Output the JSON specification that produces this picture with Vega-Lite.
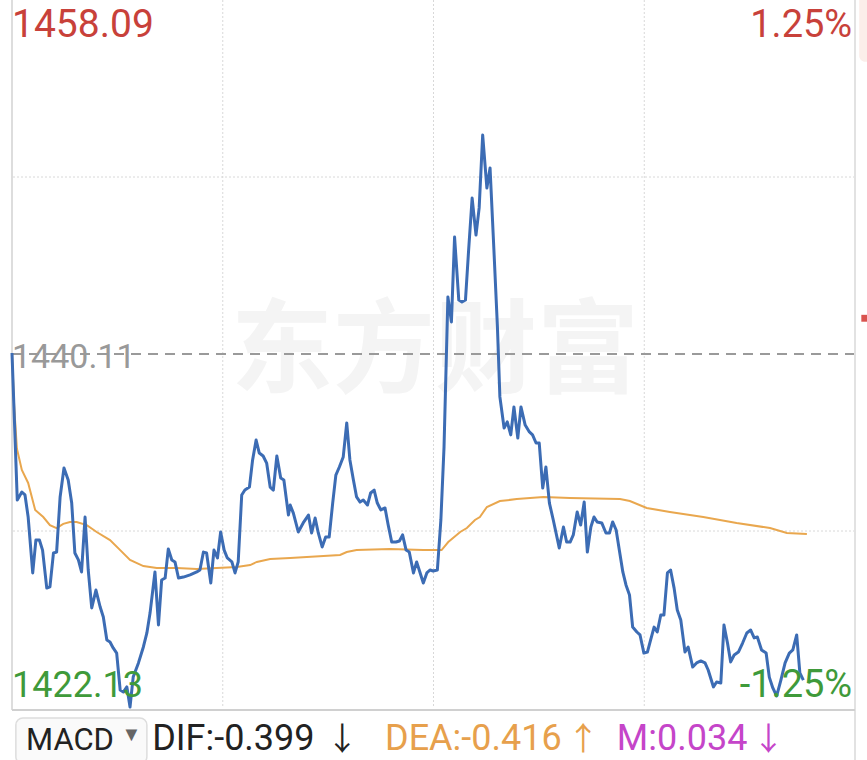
{
  "$schema": "https://vega.github.io/schema/vega-lite/v6.json",
  "width": 843,
  "height": 708,
  "autosize": {"type": "none"},
  "padding": {"left": 12, "top": 0, "right": 12, "bottom": 52},
  "background": "white",
  "config": {"view": {"stroke": null}, "text": {"font": "Roboto"}},
  "datasets": {
    "price": [
      {"t":0,"p":1440.16},{"t":1.5,"p":1432.69},{"t":2.8,"p":1433.10},{"t":3.7,"p":1432.95},{"t":4.6,"p":1431.83},
      {"t":5.9,"p":1428.99},{"t":6.8,"p":1430.66},{"t":7.8,"p":1430.66},{"t":8.7,"p":1430.15},{"t":9.9,"p":1428.22},
      {"t":10.8,"p":1428.28},{"t":11.8,"p":1430.00},{"t":12.7,"p":1430.05},{"t":13.7,"p":1432.85},{"t":14.8,"p":1434.32},
      {"t":16.0,"p":1433.71},{"t":17.0,"p":1432.54},{"t":17.9,"p":1430.00},{"t":18.9,"p":1429.65},{"t":19.8,"p":1429.04},
      {"t":20.8,"p":1431.83},{"t":21.7,"p":1429.14},{"t":22.7,"p":1427.21},{"t":23.9,"p":1428.12},{"t":25.1,"p":1427.26},
      {"t":26.0,"p":1426.75},{"t":27.0,"p":1425.58},{"t":27.9,"p":1425.48},{"t":28.8,"p":1425.18},{"t":29.8,"p":1424.92},
      {"t":30.8,"p":1423.04},{"t":31.7,"p":1422.94},{"t":32.7,"p":1423.20},{"t":33.6,"p":1422.18},{"t":34.5,"p":1423.70},
      {"t":36.0,"p":1424.42},{"t":37.4,"p":1425.23},{"t":38.4,"p":1425.94},{"t":39.3,"p":1426.95},{"t":40.7,"p":1429.04},
      {"t":41.7,"p":1426.35},{"t":42.6,"p":1428.63},{"t":43.6,"p":1428.73},{"t":44.5,"p":1430.21},{"t":45.5,"p":1429.65},
      {"t":46.4,"p":1429.55},{"t":47.4,"p":1428.73},{"t":48.8,"p":1428.78},{"t":50.7,"p":1428.89},{"t":52.6,"p":1429.04},
      {"t":53.5,"p":1429.14},{"t":54.5,"p":1430.05},{"t":55.4,"p":1430.00},{"t":56.6,"p":1428.48},{"t":57.5,"p":1430.15},
      {"t":58.5,"p":1429.75},{"t":59.4,"p":1431.07},{"t":60.4,"p":1430.15},{"t":61.3,"p":1429.75},{"t":62.6,"p":1429.55},
      {"t":63.5,"p":1428.99},{"t":64.4,"p":1429.55},{"t":65.4,"p":1432.95},{"t":66.3,"p":1433.20},{"t":67.6,"p":1433.35},
      {"t":68.5,"p":1434.73},{"t":69.5,"p":1435.74},{"t":70.4,"p":1435.08},{"t":71.5,"p":1434.93},{"t":72.5,"p":1434.57},
      {"t":73.5,"p":1433.35},{"t":74.4,"p":1433.20},{"t":75.4,"p":1434.93},{"t":76.5,"p":1433.81},{"t":77.4,"p":1433.71},
      {"t":78.7,"p":1431.93},{"t":79.2,"p":1432.44},{"t":80.1,"p":1432.03},{"t":81.5,"p":1431.07},{"t":82.9,"p":1431.53},
      {"t":84.4,"p":1431.93},{"t":85.3,"p":1431.02},{"t":86.3,"p":1431.78},{"t":87.2,"p":1431.02},{"t":88.3,"p":1430.31},
      {"t":89.3,"p":1430.81},{"t":90.3,"p":1430.81},{"t":91.3,"p":1432.54},{"t":92.2,"p":1433.96},{"t":93.2,"p":1434.37},
      {"t":94.3,"p":1434.88},{"t":95.3,"p":1436.61},{"t":96.2,"p":1434.73},{"t":97.2,"p":1433.71},{"t":98.1,"p":1432.85},
      {"t":99.1,"p":1432.59},{"t":100.0,"p":1432.69},{"t":101.2,"p":1432.44},{"t":102.1,"p":1433.05},{"t":103.1,"p":1433.20},
      {"t":104.0,"p":1432.54},{"t":105.0,"p":1432.19},{"t":106.2,"p":1432.29},{"t":107.1,"p":1431.42},{"t":108.1,"p":1430.56},
      {"t":109.3,"p":1430.56},{"t":110.3,"p":1430.61},{"t":111.2,"p":1430.92},{"t":112.2,"p":1430.15},{"t":113.1,"p":1430.05},
      {"t":114.3,"p":1428.99},{"t":115.2,"p":1429.55},{"t":116.2,"p":1428.99},{"t":117.1,"p":1428.48},{"t":118.1,"p":1428.99},
      {"t":119.0,"p":1429.14},{"t":119.9,"p":1429.09},{"t":121.1,"p":1429.14},{"t":122.1,"p":1431.68},{"t":123.0,"p":1435.39},
      {"t":124.1,"p":1443.01},{"t":125.1,"p":1441.74},{"t":126.0,"p":1446.05},{"t":127.2,"p":1442.85},{"t":128.1,"p":1442.75},
      {"t":129.1,"p":1442.85},{"t":130.0,"p":1445.39},{"t":131.0,"p":1448.03},{"t":132.1,"p":1446.15},{"t":133.0,"p":1447.53},
      {"t":134.0,"p":1451.23},{"t":135.2,"p":1448.54},{"t":136.1,"p":1449.56},{"t":137.2,"p":1445.39},{"t":138.2,"p":1441.48},
      {"t":138.9,"p":1437.93},{"t":140.1,"p":1436.35},{"t":141.0,"p":1436.66},{"t":142.0,"p":1436.00},{"t":142.9,"p":1437.42},
      {"t":144.0,"p":1435.84},{"t":144.9,"p":1437.42},{"t":146.1,"p":1436.50},{"t":147.3,"p":1436.15},{"t":148.2,"p":1436.00},
      {"t":149.2,"p":1435.59},{"t":150.1,"p":1435.59},{"t":151.1,"p":1433.30},{"t":152.0,"p":1434.37},{"t":153.0,"p":1432.54},
      {"t":154.1,"p":1431.68},{"t":155.8,"p":1430.26},{"t":157.0,"p":1431.32},{"t":157.9,"p":1430.56},{"t":158.9,"p":1430.56},
      {"t":159.8,"p":1430.92},{"t":160.9,"p":1432.09},{"t":161.9,"p":1431.42},{"t":162.9,"p":1432.59},{"t":163.8,"p":1430.05},
      {"t":164.8,"p":1431.32},{"t":165.7,"p":1431.83},{"t":166.6,"p":1431.58},{"t":167.9,"p":1431.53},{"t":169.1,"p":1431.02},
      {"t":170.1,"p":1431.02},{"t":171.0,"p":1431.58},{"t":172.0,"p":1431.17},{"t":172.9,"p":1430.15},{"t":173.9,"p":1429.04},
      {"t":174.8,"p":1428.38},{"t":175.8,"p":1427.87},{"t":176.7,"p":1426.24},{"t":177.9,"p":1425.99},{"t":178.8,"p":1425.84},
      {"t":179.9,"p":1424.92},{"t":180.9,"p":1424.97},{"t":181.8,"p":1425.58},{"t":182.8,"p":1426.24},{"t":183.7,"p":1425.99},
      {"t":184.7,"p":1426.85},{"t":185.6,"p":1426.85},{"t":186.6,"p":1428.99},{"t":187.5,"p":1429.14},{"t":188.5,"p":1428.22},
      {"t":189.4,"p":1427.11},{"t":190.4,"p":1426.60},{"t":191.6,"p":1424.97},{"t":192.5,"p":1425.23},{"t":193.8,"p":1424.21},
      {"t":194.9,"p":1424.42},{"t":196.1,"p":1424.52},{"t":197.3,"p":1424.42},{"t":198.2,"p":1424.06},{"t":199.7,"p":1423.20},
      {"t":200.6,"p":1423.45},{"t":201.8,"p":1423.40},{"t":202.7,"p":1426.35},{"t":203.7,"p":1425.43},{"t":204.6,"p":1424.47},
      {"t":205.6,"p":1424.82},{"t":206.8,"p":1424.97},{"t":208.0,"p":1425.43},{"t":209.2,"p":1425.94},{"t":210.3,"p":1426.09},
      {"t":211.3,"p":1425.69},{"t":212.2,"p":1425.74},{"t":213.4,"p":1425.08},{"t":214.7,"p":1424.92},{"t":215.6,"p":1423.70},
      {"t":216.6,"p":1423.15},{"t":217.7,"p":1422.74},{"t":218.9,"p":1423.55},{"t":220.1,"p":1424.42},{"t":221.3,"p":1424.92},
      {"t":222.3,"p":1425.08},{"t":223.4,"p":1425.84},{"t":224.3,"p":1423.91},{"t":225.3,"p":1423.55}
    ],
    "avg": [
      {"t":0,"p":1440.16},{"t":0.6,"p":1437.5},{"t":1.4,"p":1435.3},{"t":2.8,"p":1434.22},{"t":4.6,"p":1433.56},{"t":6.6,"p":1432.19},
      {"t":8.9,"p":1431.83},{"t":10.8,"p":1431.42},{"t":12.7,"p":1431.27},{"t":14.6,"p":1431.48},{"t":16.5,"p":1431.58},
      {"t":18.4,"p":1431.58},{"t":21.3,"p":1431.42},{"t":24.1,"p":1431.07},{"t":27.9,"p":1430.66},{"t":30.8,"p":1430.15},
      {"t":33.6,"p":1429.65},{"t":37.4,"p":1429.34},{"t":41.2,"p":1429.24},{"t":46.9,"p":1429.24},{"t":52.6,"p":1429.19},
      {"t":58.3,"p":1429.24},{"t":64.0,"p":1429.29},{"t":67.8,"p":1429.39},{"t":69.7,"p":1429.55},{"t":73.5,"p":1429.70},
      {"t":79.2,"p":1429.75},{"t":93.4,"p":1429.90},{"t":95.3,"p":1430.05},{"t":98.1,"p":1430.15},{"t":107.6,"p":1430.21},
      {"t":117.1,"p":1430.15},{"t":122.3,"p":1430.15},{"t":124.2,"p":1430.56},{"t":127.6,"p":1431.07},{"t":129.5,"p":1431.27},
      {"t":131.8,"p":1431.68},{"t":133.2,"p":1431.83},{"t":135.2,"p":1432.34},{"t":138.9,"p":1432.64},{"t":143.7,"p":1432.74},
      {"t":151.3,"p":1432.85},{"t":158.9,"p":1432.80},{"t":173.1,"p":1432.74},{"t":175.9,"p":1432.64},{"t":180.7,"p":1432.29},
      {"t":187.3,"p":1432.09},{"t":196.8,"p":1431.83},{"t":206.3,"p":1431.53},{"t":215.8,"p":1431.27},{"t":220.6,"p":1431.02},
      {"t":226.3,"p":1430.97}
    ]
  },
  "layer": [
    {
      "data": {"values": [{"t": 120.4, "p": 1440.11, "s": "东方财富"}]},
      "mark": {"type": "text", "font": "Noto Sans CJK SC", "fontWeight": "bold", "fontSize": 102, "color": "#f4f4f4", "align": "center", "baseline": "middle"},
      "encoding": {
        "x": {"field": "t", "type": "quantitative", "scale": {"domain": [0, 240], "nice": false, "zero": false}, "axis": null},
        "y": {"field": "p", "type": "quantitative", "scale": {"domain": [1422.13, 1458.09], "nice": false, "zero": false}, "axis": null},
        "text": {"field": "s"}
      }
    },
    {
      "data": {"values": [{"p": 1449.10}, {"p": 1431.12}]},
      "mark": {"type": "rule", "color": "#d8d8d8", "strokeWidth": 1, "strokeDash": [2, 2]},
      "encoding": {"y": {"field": "p", "type": "quantitative"}}
    },
    {
      "data": {"values": [{"t": 60}, {"t": 120}, {"t": 180}]},
      "mark": {"type": "rule", "color": "#d8d8d8", "strokeWidth": 1, "strokeDash": [2, 2]},
      "encoding": {"x": {"field": "t", "type": "quantitative"}}
    },
    {
      "data": {"values": [{"p": 1440.11}]},
      "mark": {"type": "rule", "color": "#9a9a9a", "strokeWidth": 2, "strokeDash": [10, 7]},
      "encoding": {"y": {"field": "p", "type": "quantitative"}}
    },
    {
      "data": {"values": [{"t": 241.2, "t2": 246, "p": 1458.6, "p2": 1454.95}]},
      "mark": {"type": "rect", "fill": "#fbeeea", "cornerRadius": 6},
      "encoding": {
        "x": {"field": "t", "type": "quantitative"},
        "x2": {"field": "t2"},
        "y": {"field": "p", "type": "quantitative"},
        "y2": {"field": "p2"}
      }
    },
    {
      "data": {"values": [{"t": 241.8, "t2": 243.5, "p": 1442.10, "p2": 1441.75}]},
      "mark": {"type": "rect", "fill": "#d9534f"},
      "encoding": {
        "x": {"field": "t", "type": "quantitative"},
        "x2": {"field": "t2"},
        "y": {"field": "p", "type": "quantitative"},
        "y2": {"field": "p2"}
      }
    },
    {
      "data": {"values": [{"t": 0, "p": 1458.09, "p2": 1422.03, "c": "#dddddd"}, {"t": 240, "p": 1458.09, "p2": 1419.3, "c": "#e2e2e2"}]},
      "mark": {"type": "rule", "strokeWidth": 2},
      "encoding": {
        "x": {"field": "t", "type": "quantitative"},
        "y": {"field": "p", "type": "quantitative"},
        "y2": {"field": "p2"},
        "color": {"field": "c", "type": "nominal", "scale": null}
      }
    },
    {
      "data": {"values": [{"t": 0, "t2": 240, "p": 1422.03}]},
      "mark": {"type": "rule", "strokeWidth": 2, "color": "#d0d0d0"},
      "encoding": {
        "x": {"field": "t", "type": "quantitative"},
        "x2": {"field": "t2"},
        "y": {"field": "p", "type": "quantitative"}
      }
    },
    {
      "data": {"name": "avg"},
      "mark": {"type": "line", "color": "#e9a74e", "strokeWidth": 2, "interpolate": "linear"},
      "encoding": {
        "x": {"field": "t", "type": "quantitative"},
        "y": {"field": "p", "type": "quantitative"}
      }
    },
    {
      "data": {"name": "price"},
      "mark": {"type": "line", "color": "#3c6cb4", "strokeWidth": 3, "strokeJoin": "round"},
      "encoding": {
        "x": {"field": "t", "type": "quantitative"},
        "y": {"field": "p", "type": "quantitative"}
      }
    },
    {
      "data": {"values": [
        {"t": 0, "p": 1456.2, "s": "1458.09", "c": "#c8413a", "z": 39},
        {"t": 0, "p": 1439.4, "s": "1440.11", "c": "#999999", "z": 34},
        {"t": 0, "p": 1422.7, "s": "1422.13", "c": "#3f9a3a", "z": 36}
      ]},
      "mark": {"type": "text", "align": "left", "baseline": "alphabetic"},
      "encoding": {
        "x": {"field": "t", "type": "quantitative"},
        "y": {"field": "p", "type": "quantitative"},
        "text": {"field": "s"},
        "size": {"field": "z", "type": "quantitative", "scale": null},
        "color": {"field": "c", "type": "nominal", "scale": null}
      }
    },
    {
      "data": {"values": [
        {"t": 239.2, "p": 1456.2, "s": "1.25%", "c": "#c8413a"},
        {"t": 239.2, "p": 1422.7, "s": "-1.25%", "c": "#3f9a3a"}
      ]},
      "mark": {"type": "text", "align": "right", "baseline": "alphabetic", "fontSize": 38},
      "encoding": {
        "x": {"field": "t", "type": "quantitative"},
        "y": {"field": "p", "type": "quantitative"},
        "text": {"field": "s"},
        "color": {"field": "c", "type": "nominal", "scale": null}
      }
    },
    {
      "data": {"values": [{"t": 1.1, "t2": 38.4, "p": 1421.62, "p2": 1419.3}]},
      "mark": {"type": "rect", "fill": "#fafafa", "stroke": "#dddddd", "strokeWidth": 1.5, "cornerRadius": 7},
      "encoding": {
        "x": {"field": "t", "type": "quantitative"},
        "x2": {"field": "t2"},
        "y": {"field": "p", "type": "quantitative"},
        "y2": {"field": "p2"}
      }
    },
    {
      "data": {"values": [
        {"t": 4.0, "p": 1420.0, "s": "MACD", "c": "#222222", "z": 31},
        {"t": 31.2, "p": 1420.45, "s": "▼", "c": "#666666", "z": 20},
        {"t": 39.9, "p": 1420.0, "s": "DIF:-0.399", "c": "#222222", "z": 36},
        {"t": 106.2, "p": 1420.0, "s": "DEA:-0.416", "c": "#e7a04c", "z": 36},
        {"t": 172.2, "p": 1420.0, "s": "M:0.034", "c": "#c545c9", "z": 36}
      ]},
      "mark": {"type": "text", "align": "left", "baseline": "alphabetic"},
      "encoding": {
        "x": {"field": "t", "type": "quantitative"},
        "y": {"field": "p", "type": "quantitative"},
        "text": {"field": "s"},
        "size": {"field": "z", "type": "quantitative", "scale": null},
        "color": {"field": "c", "type": "nominal", "scale": null}
      }
    },
    {
      "data": {"values": [
        {"t": 94.0, "p": 1420.0, "s": "↓", "c": "#222222"},
        {"t": 162.6, "p": 1420.0, "s": "↑", "c": "#e7a04c"},
        {"t": 215.4, "p": 1420.0, "s": "↓", "c": "#c545c9"}
      ]},
      "mark": {"type": "text", "align": "center", "baseline": "alphabetic", "font": "Noto Sans CJK SC", "fontSize": 32},
      "encoding": {
        "x": {"field": "t", "type": "quantitative"},
        "y": {"field": "p", "type": "quantitative"},
        "text": {"field": "s"},
        "color": {"field": "c", "type": "nominal", "scale": null}
      }
    }
  ]
}
